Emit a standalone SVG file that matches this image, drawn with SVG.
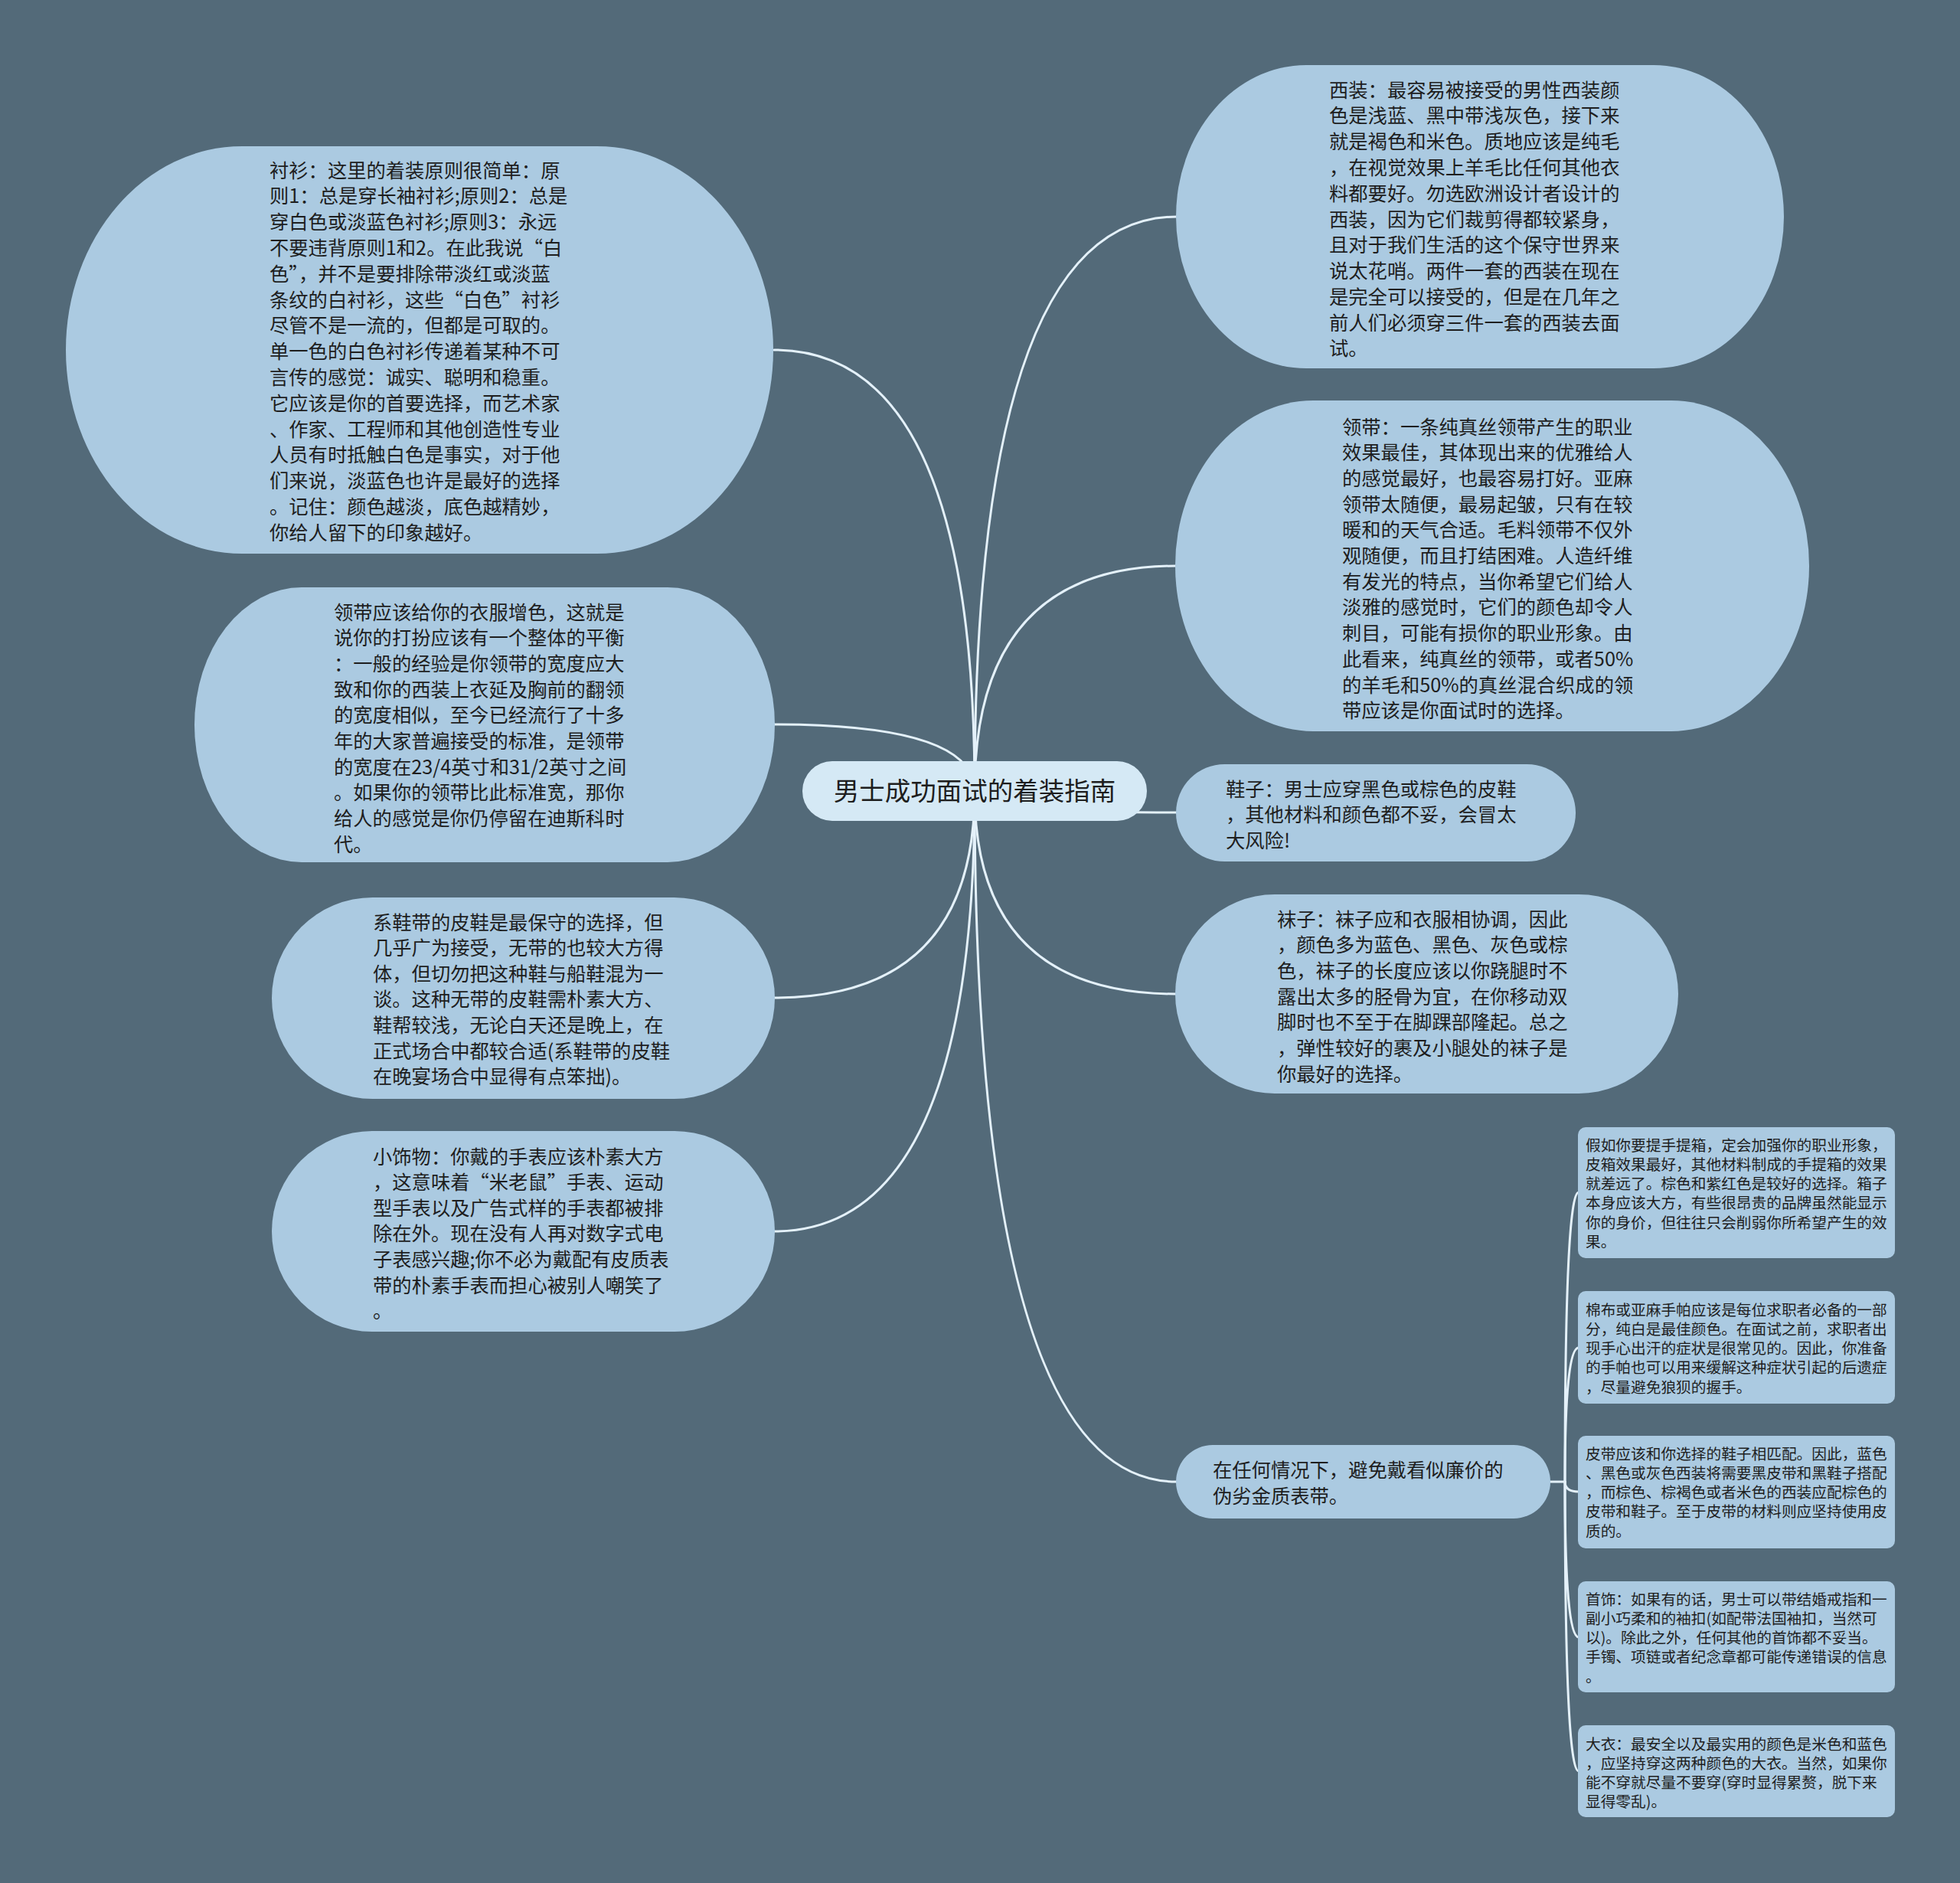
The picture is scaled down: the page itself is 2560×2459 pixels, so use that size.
<svg xmlns="http://www.w3.org/2000/svg" width="2560" height="2459" viewBox="0 0 2560 2459">
<style>
.bg{fill:#536A79}
.node{fill:#ABCAE1}
.root{fill:#D5E9F5}
.t{font-family:"Noto Sans CJK SC","Microsoft YaHei",sans-serif;font-size:25.3px;fill:#1E1E1E}
.s{font-family:"Noto Sans CJK SC","Microsoft YaHei",sans-serif;font-size:19.7px;fill:#1E1E1E}
.rt{font-family:"Noto Sans CJK SC","Microsoft YaHei",sans-serif;font-size:33.5px;fill:#1E1E1E}
.c{fill:none;stroke:#E4F1FA;stroke-width:3;stroke-linecap:round}
</style>
<rect class="bg" x="0" y="0" width="2560" height="2459"/>
<g id="connectors">
<path class="c" d="M1273 1033 Q1273 457 1011 457"/>
<path class="c" d="M1273 1033 Q1273 946 1011 946"/>
<path class="c" d="M1273 1033 Q1273 1303 1011 1303"/>
<path class="c" d="M1273 1033 Q1273 1608 1011 1608"/>
<path class="c" d="M1273 1033 Q1273 283 1537 283"/>
<path class="c" d="M1273 1033 Q1273 739 1536 739"/>
<path class="c" d="M1273 1033 Q1273 1061 1537 1061"/>
<path class="c" d="M1273 1033 Q1273 1298 1536 1298"/>
<path class="c" d="M1273 1033 Q1273 1935 1537 1935"/>
<path class="c" d="M2024 1935 L2044 1935"/>
<path class="c" d="M2044 1935 Q2044 1557 2062 1557"/>
<path class="c" d="M2044 1935 Q2044 1760 2062 1760"/>
<path class="c" d="M2044 1935 Q2044 1948 2062 1948"/>
<path class="c" d="M2044 1935 Q2044 2138 2062 2138"/>
<path class="c" d="M2044 1935 Q2044 2313 2062 2313"/>
</g>
<g id="root">
<rect class="root" x="1048" y="994" width="450" height="78" rx="39" ry="39"/>
<text class="rt" x="1273" y="1045" text-anchor="middle">男士成功面试的着装指南</text>
</g>
<g id="node-shirt">
<rect class="node" x="86" y="191" width="924" height="532" rx="230" ry="266"/>
<text class="t" x="352" y="231.5"><tspan x="352">衬衫：这里的着装原则很简单：原</tspan><tspan x="352" dy="33.8">则1：总是穿长袖衬衫;原则2：总是</tspan><tspan x="352" dy="33.8">穿白色或淡蓝色衬衫;原则3：永远</tspan><tspan x="352" dy="33.8">不要违背原则1和2。在此我说“白</tspan><tspan x="352" dy="33.8">色”，并不是要排除带淡红或淡蓝</tspan><tspan x="352" dy="33.8">条纹的白衬衫，这些“白色”衬衫</tspan><tspan x="352" dy="33.8">尽管不是一流的，但都是可取的。</tspan><tspan x="352" dy="33.8">单一色的白色衬衫传递着某种不可</tspan><tspan x="352" dy="33.8">言传的感觉：诚实、聪明和稳重。</tspan><tspan x="352" dy="33.8">它应该是你的首要选择，而艺术家</tspan><tspan x="352" dy="33.8">、作家、工程师和其他创造性专业</tspan><tspan x="352" dy="33.8">人员有时抵触白色是事实，对于他</tspan><tspan x="352" dy="33.8">们来说，淡蓝色也许是最好的选择</tspan><tspan x="352" dy="33.8">。记住：颜色越淡，底色越精妙，</tspan><tspan x="352" dy="33.8">你给人留下的印象越好。</tspan></text>
</g>
<g id="node-tie-width">
<rect class="node" x="254" y="767" width="758" height="359" rx="140" ry="179.5"/>
<text class="t" x="436" y="808.5"><tspan x="436">领带应该给你的衣服增色，这就是</tspan><tspan x="436" dy="33.7">说你的打扮应该有一个整体的平衡</tspan><tspan x="436" dy="33.7">：一般的经验是你领带的宽度应大</tspan><tspan x="436" dy="33.7">致和你的西装上衣延及胸前的翻领</tspan><tspan x="436" dy="33.7">的宽度相似，至今已经流行了十多</tspan><tspan x="436" dy="33.7">年的大家普遍接受的标准，是领带</tspan><tspan x="436" dy="33.7">的宽度在23/4英寸和31/2英寸之间</tspan><tspan x="436" dy="33.7">。如果你的领带比此标准宽，那你</tspan><tspan x="436" dy="33.7">给人的感觉是你仍停留在迪斯科时</tspan><tspan x="436" dy="33.7">代。</tspan></text>
</g>
<g id="node-laced-shoes">
<rect class="node" x="355" y="1172" width="657" height="263" rx="131.5" ry="131.5"/>
<text class="t" x="487" y="1213.5"><tspan x="487">系鞋带的皮鞋是最保守的选择，但</tspan><tspan x="487" dy="33.6">几乎广为接受，无带的也较大方得</tspan><tspan x="487" dy="33.6">体，但切勿把这种鞋与船鞋混为一</tspan><tspan x="487" dy="33.6">谈。这种无带的皮鞋需朴素大方、</tspan><tspan x="487" dy="33.6">鞋帮较浅，无论白天还是晚上，在</tspan><tspan x="487" dy="33.6">正式场合中都较合适(系鞋带的皮鞋</tspan><tspan x="487" dy="33.6">在晚宴场合中显得有点笨拙)。</tspan></text>
</g>
<g id="node-accessories">
<rect class="node" x="355" y="1477" width="657" height="262" rx="131" ry="131"/>
<text class="t" x="487" y="1519.5"><tspan x="487">小饰物：你戴的手表应该朴素大方</tspan><tspan x="487" dy="33.6">，这意味着“米老鼠”手表、运动</tspan><tspan x="487" dy="33.6">型手表以及广告式样的手表都被排</tspan><tspan x="487" dy="33.6">除在外。现在没有人再对数字式电</tspan><tspan x="487" dy="33.6">子表感兴趣;你不必为戴配有皮质表</tspan><tspan x="487" dy="33.6">带的朴素手表而担心被别人嘲笑了</tspan><tspan x="487" dy="33.6">。</tspan></text>
</g>
<g id="node-suit">
<rect class="node" x="1536" y="85" width="794" height="396" rx="170" ry="198"/>
<text class="t" x="1736" y="126.5"><tspan x="1736">西装：最容易被接受的男性西装颜</tspan><tspan x="1736" dy="33.8">色是浅蓝、黑中带浅灰色，接下来</tspan><tspan x="1736" dy="33.8">就是褐色和米色。质地应该是纯毛</tspan><tspan x="1736" dy="33.8">，在视觉效果上羊毛比任何其他衣</tspan><tspan x="1736" dy="33.8">料都要好。勿选欧洲设计者设计的</tspan><tspan x="1736" dy="33.8">西装，因为它们裁剪得都较紧身，</tspan><tspan x="1736" dy="33.8">且对于我们生活的这个保守世界来</tspan><tspan x="1736" dy="33.8">说太花哨。两件一套的西装在现在</tspan><tspan x="1736" dy="33.8">是完全可以接受的，但是在几年之</tspan><tspan x="1736" dy="33.8">前人们必须穿三件一套的西装去面</tspan><tspan x="1736" dy="33.8">试。</tspan></text>
</g>
<g id="node-tie">
<rect class="node" x="1535" y="523" width="828" height="432" rx="180" ry="216"/>
<text class="t" x="1753" y="566.5"><tspan x="1753">领带：一条纯真丝领带产生的职业</tspan><tspan x="1753" dy="33.7">效果最佳，其体现出来的优雅给人</tspan><tspan x="1753" dy="33.7">的感觉最好，也最容易打好。亚麻</tspan><tspan x="1753" dy="33.7">领带太随便，最易起皱，只有在较</tspan><tspan x="1753" dy="33.7">暖和的天气合适。毛料领带不仅外</tspan><tspan x="1753" dy="33.7">观随便，而且打结困难。人造纤维</tspan><tspan x="1753" dy="33.7">有发光的特点，当你希望它们给人</tspan><tspan x="1753" dy="33.7">淡雅的感觉时，它们的颜色却令人</tspan><tspan x="1753" dy="33.7">刺目，可能有损你的职业形象。由</tspan><tspan x="1753" dy="33.7">此看来，纯真丝的领带，或者50%</tspan><tspan x="1753" dy="33.7">的羊毛和50%的真丝混合织成的领</tspan><tspan x="1753" dy="33.7">带应该是你面试时的选择。</tspan></text>
</g>
<g id="node-shoes">
<rect class="node" x="1536" y="998" width="522" height="127" rx="63.5" ry="63.5"/>
<text class="t" x="1601" y="1039.5"><tspan x="1601">鞋子：男士应穿黑色或棕色的皮鞋</tspan><tspan x="1601" dy="33.7">，其他材料和颜色都不妥，会冒太</tspan><tspan x="1601" dy="33.7">大风险!</tspan></text>
</g>
<g id="node-socks">
<rect class="node" x="1535" y="1168" width="657" height="260" rx="130" ry="130"/>
<text class="t" x="1668" y="1209.5"><tspan x="1668">袜子：袜子应和衣服相协调，因此</tspan><tspan x="1668" dy="33.7">，颜色多为蓝色、黑色、灰色或棕</tspan><tspan x="1668" dy="33.7">色，袜子的长度应该以你跷腿时不</tspan><tspan x="1668" dy="33.7">露出太多的胫骨为宜，在你移动双</tspan><tspan x="1668" dy="33.7">脚时也不至于在脚踝部隆起。总之</tspan><tspan x="1668" dy="33.7">，弹性较好的裹及小腿处的袜子是</tspan><tspan x="1668" dy="33.7">你最好的选择。</tspan></text>
</g>
<g id="node-watchband">
<rect class="node" x="1536" y="1887" width="489" height="96" rx="48" ry="48"/>
<text class="t" x="1584" y="1928.5"><tspan x="1584">在任何情况下，避免戴看似廉价的</tspan><tspan x="1584" dy="34">伪劣金质表带。</tspan></text>
</g>
<g id="node-briefcase">
<rect class="node" x="2061" y="1472" width="414" height="171" rx="10" ry="10"/>
<text class="s" x="2071" y="1502.5"><tspan x="2071">假如你要提手提箱，定会加强你的职业形象，</tspan><tspan x="2071" dy="25.3">皮箱效果最好，其他材料制成的手提箱的效果</tspan><tspan x="2071" dy="25.3">就差远了。棕色和紫红色是较好的选择。箱子</tspan><tspan x="2071" dy="25.3">本身应该大方，有些很昂贵的品牌虽然能显示</tspan><tspan x="2071" dy="25.3">你的身价，但往往只会削弱你所希望产生的效</tspan><tspan x="2071" dy="25.3">果。</tspan></text>
</g>
<g id="node-handkerchief">
<rect class="node" x="2061" y="1686" width="414" height="147" rx="10" ry="10"/>
<text class="s" x="2071" y="1717.5"><tspan x="2071">棉布或亚麻手帕应该是每位求职者必备的一部</tspan><tspan x="2071" dy="25.3">分，纯白是最佳颜色。在面试之前，求职者出</tspan><tspan x="2071" dy="25.3">现手心出汗的症状是很常见的。因此，你准备</tspan><tspan x="2071" dy="25.3">的手帕也可以用来缓解这种症状引起的后遗症</tspan><tspan x="2071" dy="25.3">，尽量避免狼狈的握手。</tspan></text>
</g>
<g id="node-belt">
<rect class="node" x="2061" y="1875" width="414" height="147" rx="10" ry="10"/>
<text class="s" x="2071" y="1905.5"><tspan x="2071">皮带应该和你选择的鞋子相匹配。因此，蓝色</tspan><tspan x="2071" dy="25.3">、黑色或灰色西装将需要黑皮带和黑鞋子搭配</tspan><tspan x="2071" dy="25.3">，而棕色、棕褐色或者米色的西装应配棕色的</tspan><tspan x="2071" dy="25.3">皮带和鞋子。至于皮带的材料则应坚持使用皮</tspan><tspan x="2071" dy="25.3">质的。</tspan></text>
</g>
<g id="node-jewelry">
<rect class="node" x="2061" y="2065" width="414" height="145" rx="10" ry="10"/>
<text class="s" x="2071" y="2095.5"><tspan x="2071">首饰：如果有的话，男士可以带结婚戒指和一</tspan><tspan x="2071" dy="25.3">副小巧柔和的袖扣(如配带法国袖扣，当然可</tspan><tspan x="2071" dy="25.3">以)。除此之外，任何其他的首饰都不妥当。</tspan><tspan x="2071" dy="25.3">手镯、项链或者纪念章都可能传递错误的信息</tspan><tspan x="2071" dy="25.3">。</tspan></text>
</g>
<g id="node-coat">
<rect class="node" x="2061" y="2253" width="414" height="120" rx="10" ry="10"/>
<text class="s" x="2071" y="2284.5"><tspan x="2071">大衣：最安全以及最实用的颜色是米色和蓝色</tspan><tspan x="2071" dy="25.3">，应坚持穿这两种颜色的大衣。当然，如果你</tspan><tspan x="2071" dy="25.3">能不穿就尽量不要穿(穿时显得累赘，脱下来</tspan><tspan x="2071" dy="25.3">显得零乱)。</tspan></text>
</g>
</svg>
